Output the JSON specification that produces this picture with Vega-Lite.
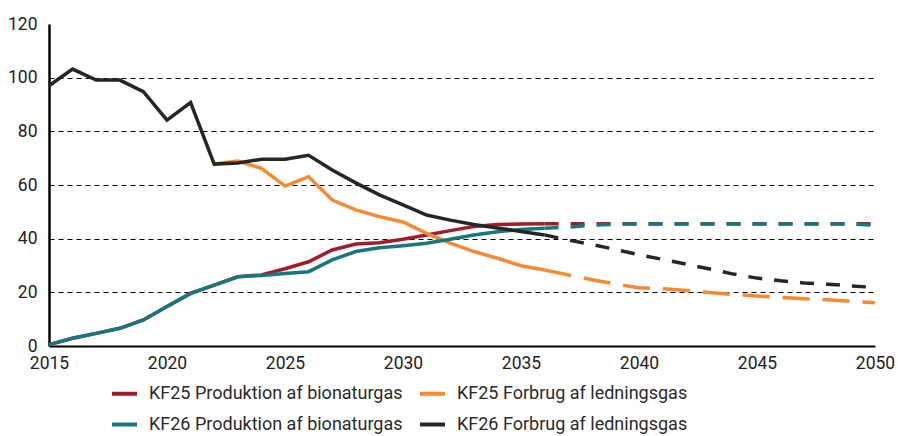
{
  "$schema": "https://vega.github.io/schema/vega-lite/v6.json",
  "width": 826,
  "height": 322,
  "autosize": {"type": "none"},
  "padding": {"left": 49, "top": 24, "right": 23, "bottom": 90},
  "background": "white",
  "config": {
    "view": {"stroke": null},
    "font": "Roboto",
    "axis": {"labelFont": "Roboto", "labelFontSize": 17.5, "labelColor": "#222222", "ticks": false, "title": null}
  },
  "data": {
    "values": [
      {"year": 2015, "value": 0.5, "series": "KF25 Produktion af bionaturgas", "period": "historisk"},
      {"year": 2016, "value": 2.9, "series": "KF25 Produktion af bionaturgas", "period": "historisk"},
      {"year": 2017, "value": 4.7, "series": "KF25 Produktion af bionaturgas", "period": "historisk"},
      {"year": 2018, "value": 6.6, "series": "KF25 Produktion af bionaturgas", "period": "historisk"},
      {"year": 2019, "value": 9.7, "series": "KF25 Produktion af bionaturgas", "period": "historisk"},
      {"year": 2020, "value": 14.7, "series": "KF25 Produktion af bionaturgas", "period": "historisk"},
      {"year": 2021, "value": 19.6, "series": "KF25 Produktion af bionaturgas", "period": "historisk"},
      {"year": 2022, "value": 22.7, "series": "KF25 Produktion af bionaturgas", "period": "historisk"},
      {"year": 2023, "value": 25.8, "series": "KF25 Produktion af bionaturgas", "period": "historisk"},
      {"year": 2024, "value": 26.5, "series": "KF25 Produktion af bionaturgas", "period": "historisk"},
      {"year": 2025, "value": 28.8, "series": "KF25 Produktion af bionaturgas", "period": "historisk"},
      {"year": 2026, "value": 31.4, "series": "KF25 Produktion af bionaturgas", "period": "historisk"},
      {"year": 2027, "value": 35.8, "series": "KF25 Produktion af bionaturgas", "period": "historisk"},
      {"year": 2028, "value": 38.0, "series": "KF25 Produktion af bionaturgas", "period": "historisk"},
      {"year": 2029, "value": 38.5, "series": "KF25 Produktion af bionaturgas", "period": "historisk"},
      {"year": 2030, "value": 39.8, "series": "KF25 Produktion af bionaturgas", "period": "historisk"},
      {"year": 2031, "value": 41.4, "series": "KF25 Produktion af bionaturgas", "period": "historisk"},
      {"year": 2032, "value": 43.0, "series": "KF25 Produktion af bionaturgas", "period": "historisk"},
      {"year": 2033, "value": 44.5, "series": "KF25 Produktion af bionaturgas", "period": "historisk"},
      {"year": 2034, "value": 45.3, "series": "KF25 Produktion af bionaturgas", "period": "historisk"},
      {"year": 2035, "value": 45.5, "series": "KF25 Produktion af bionaturgas", "period": "historisk"},
      {"year": 2036, "value": 45.6, "series": "KF25 Produktion af bionaturgas", "period": "historisk"},
      {"year": 2036, "value": 45.6, "series": "KF25 Produktion af bionaturgas", "period": "fremskrivning"},
      {"year": 2040, "value": 45.6, "series": "KF25 Produktion af bionaturgas", "period": "fremskrivning"},
      {"year": 2045, "value": 45.6, "series": "KF25 Produktion af bionaturgas", "period": "fremskrivning"},
      {"year": 2050, "value": 45.6, "series": "KF25 Produktion af bionaturgas", "period": "fremskrivning"},

      {"year": 2022, "value": 67.8, "series": "KF25 Forbrug af ledningsgas", "period": "historisk"},
      {"year": 2023, "value": 68.9, "series": "KF25 Forbrug af ledningsgas", "period": "historisk"},
      {"year": 2024, "value": 66.2, "series": "KF25 Forbrug af ledningsgas", "period": "historisk"},
      {"year": 2025, "value": 59.6, "series": "KF25 Forbrug af ledningsgas", "period": "historisk"},
      {"year": 2026, "value": 63.1, "series": "KF25 Forbrug af ledningsgas", "period": "historisk"},
      {"year": 2027, "value": 54.4, "series": "KF25 Forbrug af ledningsgas", "period": "historisk"},
      {"year": 2028, "value": 50.7, "series": "KF25 Forbrug af ledningsgas", "period": "historisk"},
      {"year": 2029, "value": 48.2, "series": "KF25 Forbrug af ledningsgas", "period": "historisk"},
      {"year": 2030, "value": 46.2, "series": "KF25 Forbrug af ledningsgas", "period": "historisk"},
      {"year": 2031, "value": 42.0, "series": "KF25 Forbrug af ledningsgas", "period": "historisk"},
      {"year": 2032, "value": 38.3, "series": "KF25 Forbrug af ledningsgas", "period": "historisk"},
      {"year": 2033, "value": 35.2, "series": "KF25 Forbrug af ledningsgas", "period": "historisk"},
      {"year": 2034, "value": 32.7, "series": "KF25 Forbrug af ledningsgas", "period": "historisk"},
      {"year": 2035, "value": 29.9, "series": "KF25 Forbrug af ledningsgas", "period": "historisk"},
      {"year": 2036, "value": 28.3, "series": "KF25 Forbrug af ledningsgas", "period": "historisk"},
      {"year": 2036, "value": 28.3, "series": "KF25 Forbrug af ledningsgas", "period": "fremskrivning"},
      {"year": 2037, "value": 26.5, "series": "KF25 Forbrug af ledningsgas", "period": "fremskrivning"},
      {"year": 2038, "value": 24.7, "series": "KF25 Forbrug af ledningsgas", "period": "fremskrivning"},
      {"year": 2039, "value": 23.1, "series": "KF25 Forbrug af ledningsgas", "period": "fremskrivning"},
      {"year": 2040, "value": 21.7, "series": "KF25 Forbrug af ledningsgas", "period": "fremskrivning"},
      {"year": 2041, "value": 21.3, "series": "KF25 Forbrug af ledningsgas", "period": "fremskrivning"},
      {"year": 2042, "value": 20.7, "series": "KF25 Forbrug af ledningsgas", "period": "fremskrivning"},
      {"year": 2043, "value": 19.9, "series": "KF25 Forbrug af ledningsgas", "period": "fremskrivning"},
      {"year": 2044, "value": 19.2, "series": "KF25 Forbrug af ledningsgas", "period": "fremskrivning"},
      {"year": 2045, "value": 18.6, "series": "KF25 Forbrug af ledningsgas", "period": "fremskrivning"},
      {"year": 2046, "value": 18.1, "series": "KF25 Forbrug af ledningsgas", "period": "fremskrivning"},
      {"year": 2047, "value": 17.6, "series": "KF25 Forbrug af ledningsgas", "period": "fremskrivning"},
      {"year": 2048, "value": 17.2, "series": "KF25 Forbrug af ledningsgas", "period": "fremskrivning"},
      {"year": 2049, "value": 16.6, "series": "KF25 Forbrug af ledningsgas", "period": "fremskrivning"},
      {"year": 2050, "value": 16.1, "series": "KF25 Forbrug af ledningsgas", "period": "fremskrivning"},

      {"year": 2015, "value": 0.5, "series": "KF26 Produktion af bionaturgas", "period": "historisk"},
      {"year": 2016, "value": 2.9, "series": "KF26 Produktion af bionaturgas", "period": "historisk"},
      {"year": 2017, "value": 4.7, "series": "KF26 Produktion af bionaturgas", "period": "historisk"},
      {"year": 2018, "value": 6.6, "series": "KF26 Produktion af bionaturgas", "period": "historisk"},
      {"year": 2019, "value": 9.7, "series": "KF26 Produktion af bionaturgas", "period": "historisk"},
      {"year": 2020, "value": 14.7, "series": "KF26 Produktion af bionaturgas", "period": "historisk"},
      {"year": 2021, "value": 19.6, "series": "KF26 Produktion af bionaturgas", "period": "historisk"},
      {"year": 2022, "value": 22.7, "series": "KF26 Produktion af bionaturgas", "period": "historisk"},
      {"year": 2023, "value": 25.8, "series": "KF26 Produktion af bionaturgas", "period": "historisk"},
      {"year": 2024, "value": 26.3, "series": "KF26 Produktion af bionaturgas", "period": "historisk"},
      {"year": 2025, "value": 27.0, "series": "KF26 Produktion af bionaturgas", "period": "historisk"},
      {"year": 2026, "value": 27.7, "series": "KF26 Produktion af bionaturgas", "period": "historisk"},
      {"year": 2027, "value": 32.1, "series": "KF26 Produktion af bionaturgas", "period": "historisk"},
      {"year": 2028, "value": 35.2, "series": "KF26 Produktion af bionaturgas", "period": "historisk"},
      {"year": 2029, "value": 36.6, "series": "KF26 Produktion af bionaturgas", "period": "historisk"},
      {"year": 2030, "value": 37.4, "series": "KF26 Produktion af bionaturgas", "period": "historisk"},
      {"year": 2031, "value": 38.3, "series": "KF26 Produktion af bionaturgas", "period": "historisk"},
      {"year": 2032, "value": 39.8, "series": "KF26 Produktion af bionaturgas", "period": "historisk"},
      {"year": 2033, "value": 41.4, "series": "KF26 Produktion af bionaturgas", "period": "historisk"},
      {"year": 2034, "value": 42.6, "series": "KF26 Produktion af bionaturgas", "period": "historisk"},
      {"year": 2035, "value": 43.4, "series": "KF26 Produktion af bionaturgas", "period": "historisk"},
      {"year": 2036, "value": 43.9, "series": "KF26 Produktion af bionaturgas", "period": "historisk"},
      {"year": 2036, "value": 43.9, "series": "KF26 Produktion af bionaturgas", "period": "fremskrivning"},
      {"year": 2037, "value": 44.3, "series": "KF26 Produktion af bionaturgas", "period": "fremskrivning"},
      {"year": 2038, "value": 45.0, "series": "KF26 Produktion af bionaturgas", "period": "fremskrivning"},
      {"year": 2039, "value": 45.4, "series": "KF26 Produktion af bionaturgas", "period": "fremskrivning"},
      {"year": 2040, "value": 45.5, "series": "KF26 Produktion af bionaturgas", "period": "fremskrivning"},
      {"year": 2045, "value": 45.5, "series": "KF26 Produktion af bionaturgas", "period": "fremskrivning"},
      {"year": 2049, "value": 45.5, "series": "KF26 Produktion af bionaturgas", "period": "fremskrivning"},
      {"year": 2050, "value": 45.0, "series": "KF26 Produktion af bionaturgas", "period": "fremskrivning"},

      {"year": 2015, "value": 97.0, "series": "KF26 Forbrug af ledningsgas", "period": "historisk"},
      {"year": 2016, "value": 103.2, "series": "KF26 Forbrug af ledningsgas", "period": "historisk"},
      {"year": 2017, "value": 99.1, "series": "KF26 Forbrug af ledningsgas", "period": "historisk"},
      {"year": 2018, "value": 99.1, "series": "KF26 Forbrug af ledningsgas", "period": "historisk"},
      {"year": 2019, "value": 94.8, "series": "KF26 Forbrug af ledningsgas", "period": "historisk"},
      {"year": 2020, "value": 84.2, "series": "KF26 Forbrug af ledningsgas", "period": "historisk"},
      {"year": 2021, "value": 90.7, "series": "KF26 Forbrug af ledningsgas", "period": "historisk"},
      {"year": 2022, "value": 67.8, "series": "KF26 Forbrug af ledningsgas", "period": "historisk"},
      {"year": 2023, "value": 68.2, "series": "KF26 Forbrug af ledningsgas", "period": "historisk"},
      {"year": 2024, "value": 69.6, "series": "KF26 Forbrug af ledningsgas", "period": "historisk"},
      {"year": 2025, "value": 69.6, "series": "KF26 Forbrug af ledningsgas", "period": "historisk"},
      {"year": 2026, "value": 71.1, "series": "KF26 Forbrug af ledningsgas", "period": "historisk"},
      {"year": 2027, "value": 65.6, "series": "KF26 Forbrug af ledningsgas", "period": "historisk"},
      {"year": 2028, "value": 60.8, "series": "KF26 Forbrug af ledningsgas", "period": "historisk"},
      {"year": 2029, "value": 56.3, "series": "KF26 Forbrug af ledningsgas", "period": "historisk"},
      {"year": 2030, "value": 52.6, "series": "KF26 Forbrug af ledningsgas", "period": "historisk"},
      {"year": 2031, "value": 48.8, "series": "KF26 Forbrug af ledningsgas", "period": "historisk"},
      {"year": 2032, "value": 46.9, "series": "KF26 Forbrug af ledningsgas", "period": "historisk"},
      {"year": 2033, "value": 45.3, "series": "KF26 Forbrug af ledningsgas", "period": "historisk"},
      {"year": 2034, "value": 44.0, "series": "KF26 Forbrug af ledningsgas", "period": "historisk"},
      {"year": 2035, "value": 42.7, "series": "KF26 Forbrug af ledningsgas", "period": "historisk"},
      {"year": 2036, "value": 41.4, "series": "KF26 Forbrug af ledningsgas", "period": "historisk"},
      {"year": 2036, "value": 41.4, "series": "KF26 Forbrug af ledningsgas", "period": "fremskrivning"},
      {"year": 2037, "value": 39.5, "series": "KF26 Forbrug af ledningsgas", "period": "fremskrivning"},
      {"year": 2038, "value": 37.8, "series": "KF26 Forbrug af ledningsgas", "period": "fremskrivning"},
      {"year": 2039, "value": 36.0, "series": "KF26 Forbrug af ledningsgas", "period": "fremskrivning"},
      {"year": 2040, "value": 34.0, "series": "KF26 Forbrug af ledningsgas", "period": "fremskrivning"},
      {"year": 2041, "value": 32.3, "series": "KF26 Forbrug af ledningsgas", "period": "fremskrivning"},
      {"year": 2042, "value": 30.5, "series": "KF26 Forbrug af ledningsgas", "period": "fremskrivning"},
      {"year": 2043, "value": 28.7, "series": "KF26 Forbrug af ledningsgas", "period": "fremskrivning"},
      {"year": 2044, "value": 26.8, "series": "KF26 Forbrug af ledningsgas", "period": "fremskrivning"},
      {"year": 2045, "value": 25.3, "series": "KF26 Forbrug af ledningsgas", "period": "fremskrivning"},
      {"year": 2046, "value": 24.3, "series": "KF26 Forbrug af ledningsgas", "period": "fremskrivning"},
      {"year": 2047, "value": 23.5, "series": "KF26 Forbrug af ledningsgas", "period": "fremskrivning"},
      {"year": 2048, "value": 23.0, "series": "KF26 Forbrug af ledningsgas", "period": "fremskrivning"},
      {"year": 2049, "value": 22.4, "series": "KF26 Forbrug af ledningsgas", "period": "fremskrivning"},
      {"year": 2050, "value": 21.8, "series": "KF26 Forbrug af ledningsgas", "period": "fremskrivning"}
    ]
  },
  "encoding": {
    "x": {
      "field": "year", "type": "quantitative",
      "scale": {"domain": [2015, 2050], "nice": false, "zero": false},
      "axis": {
        "values": [2015, 2020, 2025, 2030, 2035, 2040, 2045, 2050],
        "format": "d", "grid": false, "domainColor": "#000000", "domainWidth": 2,
        "labelPadding": 8, "labelFlush": false
      }
    },
    "y": {
      "field": "value", "type": "quantitative",
      "scale": {"domain": [0, 120], "nice": false},
      "axis": {
        "values": [0, 20, 40, 60, 80, 100, 120],
        "domainColor": "#000000", "domainWidth": 2.5,
        "grid": true, "gridDash": [5, 4], "gridWidth": 1,
        "gridColor": {"condition": {"test": "datum.value >= 120 || datum.value <= 0", "value": "transparent"}, "value": "#000000"},
        "labelPadding": 12
      }
    },
    "color": {
      "field": "series", "type": "nominal",
      "scale": {
        "domain": ["KF25 Produktion af bionaturgas", "KF25 Forbrug af ledningsgas", "KF26 Produktion af bionaturgas", "KF26 Forbrug af ledningsgas"],
        "range": ["#a11d2b", "#f58a32", "#17777d", "#262626"]
      },
      "legend": {
        "title": null, "orient": "none", "legendX": 61, "legendY": 355,
        "direction": "horizontal", "columns": 2, "columnPadding": 9, "rowPadding": 7,
        "symbolType": "stroke", "symbolSize": 625, "symbolStrokeWidth": 4,
        "labelFont": "Roboto", "labelFontSize": 18, "labelColor": "#2a2a2a", "labelOffset": 10,
        "labelLimit": 400
      }
    }
  },
  "layer": [
    {
      "transform": [{"filter": "datum.period === 'historisk'"}],
      "mark": {"type": "line", "strokeWidth": 3.5, "strokeCap": "butt"}
    },
    {
      "transform": [{"filter": "datum.period === 'fremskrivning' && datum.series !== 'KF25 Forbrug af ledningsgas'"}],
      "mark": {"type": "line", "strokeWidth": 3.5, "strokeDash": [14, 12], "strokeCap": "butt"}
    },
    {
      "transform": [{"filter": "datum.period === 'fremskrivning' && datum.series === 'KF25 Forbrug af ledningsgas'"}],
      "mark": {"type": "line", "strokeWidth": 3.5, "strokeDash": [27, 13], "strokeCap": "butt"}
    }
  ]
}
